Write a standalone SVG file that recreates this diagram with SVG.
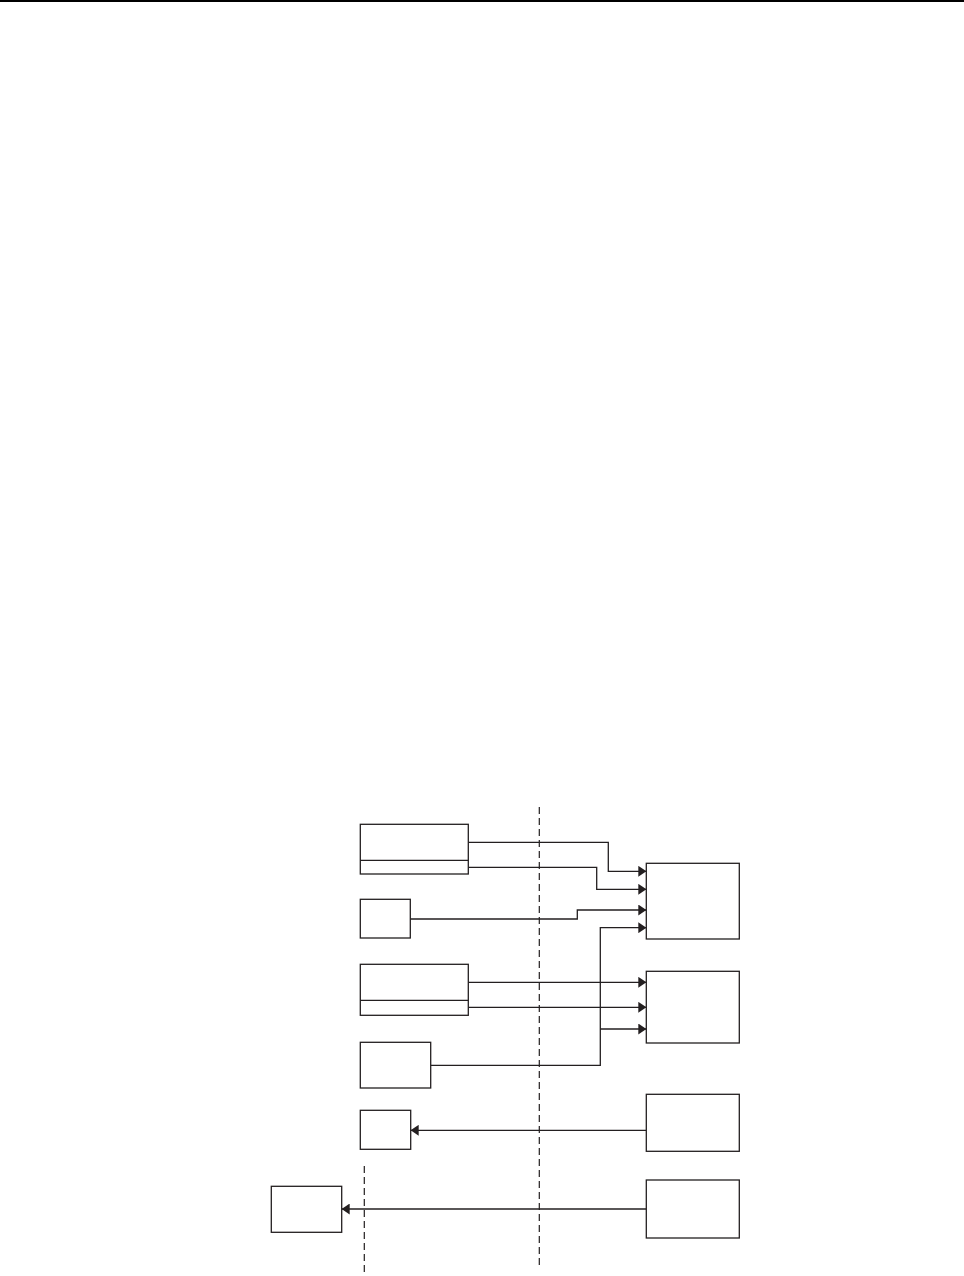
<svg xmlns="http://www.w3.org/2000/svg" width="964" height="1276" viewBox="0 0 964 1276">
<style>
.box{fill:#fff;stroke:#231f20;stroke-width:1.3}
.ln{fill:none;stroke:#231f20;stroke-width:1.3}
.dash{fill:none;stroke:#231f20;stroke-width:1.2;stroke-dasharray:7 4}
</style>
<defs>
<marker id="ah" viewBox="0 0 8 11" refX="8" refY="5.5" markerWidth="8" markerHeight="11" markerUnits="userSpaceOnUse" orient="auto">
<path d="M0,0 L8,5.5 L0,11 Z" fill="#231f20"/>
</marker>
</defs>
<rect x="0" y="0" width="964" height="2" fill="#000"/>
<g id="guides">
<line class="dash" x1="539.3" y1="807" x2="539.3" y2="1268"/>
<line class="dash" x1="364.3" y1="1166" x2="364.3" y2="1276"/>
</g>
<g id="connectors">
<path class="ln" d="M468.3,842.3 H608.3 V871.3 H646.3" marker-end="url(#ah)"/>
<path class="ln" d="M468.3,867.3 H596.7 V889.3 H646.3" marker-end="url(#ah)"/>
<path class="ln" d="M410.3,919 H577.3 V910 H646.3" marker-end="url(#ah)"/>
<path class="ln" d="M430.7,1065.3 H600.3 V927.7 H646.3" marker-end="url(#ah)"/>
<path class="ln" d="M600.3,1029 H646.3" marker-end="url(#ah)"/>
<path class="ln" d="M468.3,982.3 H646.3" marker-end="url(#ah)"/>
<path class="ln" d="M468.3,1007.3 H646.3" marker-end="url(#ah)"/>
<path class="ln" d="M646.3,1130.3 H410.7" marker-end="url(#ah)"/>
<path class="ln" d="M646.3,1209 H341.7" marker-end="url(#ah)"/>
</g>
<g id="nodeA"><rect class="box" x="360.3" y="824.3" width="108" height="49.7"/><line class="ln" x1="360.3" y1="860.3" x2="468.3" y2="860.3"/></g>
<g id="nodeB"><rect class="box" x="360.3" y="899.3" width="50" height="38.7"/></g>
<g id="nodeC"><rect class="box" x="646.3" y="863.3" width="93" height="75.7"/></g>
<g id="nodeD"><rect class="box" x="360.3" y="964.3" width="108" height="51"/><line class="ln" x1="360.3" y1="1000.3" x2="468.3" y2="1000.3"/></g>
<g id="nodeE"><rect class="box" x="360.3" y="1042.3" width="70.4" height="45.7"/></g>
<g id="nodeF"><rect class="box" x="646.3" y="971.3" width="93" height="71.7"/></g>
<g id="nodeG"><rect class="box" x="646.3" y="1094.3" width="93" height="57"/></g>
<g id="nodeH"><rect class="box" x="360.3" y="1110.3" width="50.4" height="39"/></g>
<g id="nodeI"><rect class="box" x="271.3" y="1186.3" width="70.4" height="46"/></g>
<g id="nodeJ"><rect class="box" x="646.3" y="1180" width="93" height="58"/></g>
</svg>
